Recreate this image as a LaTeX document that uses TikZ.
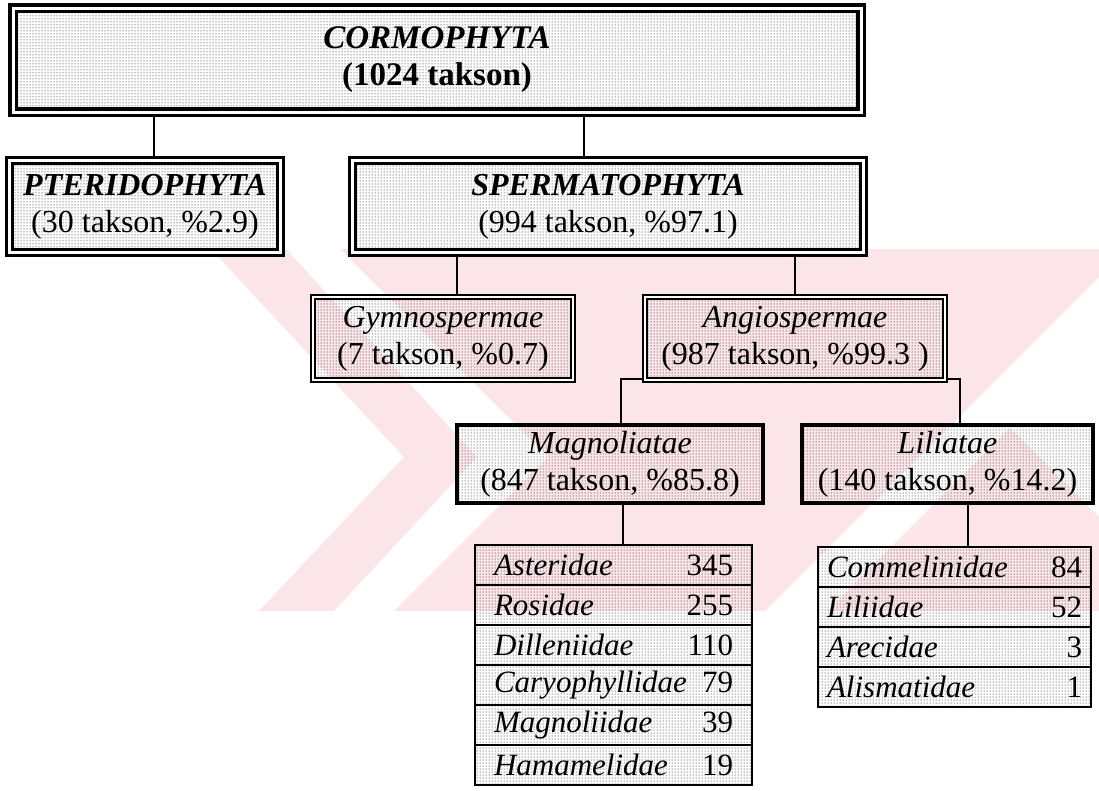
\documentclass[tikz,border=0pt]{standalone}
\usepackage{fontspec}
\setmainfont{Liberation Serif}
\usetikzlibrary{patterns}

\definecolor{wmpink}{RGB}{252,229,233}

\tikzset{
  taxbox/.style={pattern=dots, pattern color=black, align=center, inner sep=0pt,
    font=\fontsize{32}{37}\selectfont},
  topbox/.style={taxbox, draw, line width=3.5pt, double=white, double distance=3pt,
    outer sep=5pt, font=\fontsize{33}{37}\selectfont},
  divbox/.style={taxbox, draw, line width=3pt, double=white, double distance=2.5pt, outer sep=4.25pt},
  subbox/.style={taxbox, draw, line width=2pt, double=white, double distance=2pt, outer sep=3pt},
  classbox/.style={taxbox, draw, line width=3.5pt, outer sep=1.75pt},
  rowbox/.style={pattern=dots, pattern color=black, draw, line width=2pt, minimum height=40pt,
    inner ysep=0pt, outer sep=1pt, font=\fontsize{31}{37}\selectfont},
  link/.style={line width=2pt}
}

\begin{document}
\begin{tikzpicture}[x=1pt,y=-1pt]
  \useasboundingbox (0,0) rectangle (1099,790);

  % watermark
  \begin{scope}
    \clip (205,249) rectangle (1099,610);
    \fill[wmpink] (211,249) -- (286,249) -- (477,457) -- (333,612) -- (258,612) -- (404,457) -- cycle;
    \fill[wmpink] (340,249) -- (1099,249) -- (1099,277) -- (764,612) -- (393,612) -- (548,457) -- cycle;
    \fill[wmpink] (826,612) -- (1010,428) -- (1099,517) -- (1099,612) -- cycle;
  \end{scope}

  \node[topbox, minimum width=848pt, minimum height=104pt] (cormo) at (437,60)
    {\textbf{\textit{CORMOPHYTA}}\\\textbf{(1024 takson)}};

  \node[divbox, minimum width=271pt, minimum height=92pt] (ptero) at (145,206.5)
    {\textbf{\textit{PTERIDOPHYTA}}\\(30 takson, \%2.9)};
  \node[divbox, minimum width=511pt, minimum height=92pt] (sperma) at (608,206.5)
    {\textbf{\textit{SPERMATOPHYTA}}\\(994 takson, \%97.1)};

  \node[subbox, minimum width=260pt, minimum height=83pt] (gymno) at (443,338.5)
    {\textit{Gymnospermae}\\(7 takson, \%0.7)};
  \node[subbox, minimum width=300pt, minimum height=83pt] (angio) at (795,338.5)
    {\textit{Angiospermae}\\(987 takson, \%99.3 )};

  \node[classbox, minimum width=306pt, minimum height=78pt] (magno) at (610,464)
    {\textit{Magnoliatae}\\(847 takson, \%85.8)};
  \node[classbox, minimum width=291pt, minimum height=78pt] (lilia) at (947.5,464)
    {\textit{Liliatae}\\(140 takson, \%14.2)};

  % subclass tables
  \foreach \nm/\nr [count=\i] in {Asteridae/345, Rosidae/255, Dilleniidae/110,
      Caryophyllidae/79, Magnoliidae/39, Hamamelidae/19}
    \node[rowbox, minimum width=277pt] (mrow\i) at (613.5,525+40*\i)
      {\makebox[239pt]{\textit{\nm}\hfill\nr}};
  \foreach \nm/\nr [count=\i] in {Commelinidae/84, Liliidae/52, Arecidae/3, Alismatidae/1}
    \node[rowbox, minimum width=273pt] (lrow\i) at (954.5,527+40*\i)
      {\makebox[255pt]{\textit{\nm}\hfill\nr}};

  % connectors
  \draw[link] ([xshift=9pt]ptero.north) -- ([xshift=9pt]ptero.north |- cormo.south);
  \draw[link] ([xshift=-24pt]sperma.north) -- ([xshift=-24pt]sperma.north |- cormo.south);
  \draw[link] ([xshift=14pt]gymno.north) -- ([xshift=14pt]gymno.north |- sperma.south);
  \draw[link] (angio.north) -- (angio.north |- sperma.south);
  \draw[link] ([yshift=4pt]angio.south west) -| ([xshift=11pt]magno.north);
  \draw[link] ([yshift=4pt]angio.south east) -| ([xshift=12pt]lilia.north);
  \draw[link] ([xshift=13pt]magno.south) -- ([xshift=13pt]magno.south |- mrow1.north);
  \draw[link] ([xshift=20pt]lilia.south) -- ([xshift=20pt]lilia.south |- lrow1.north);
\end{tikzpicture}
\end{document}
